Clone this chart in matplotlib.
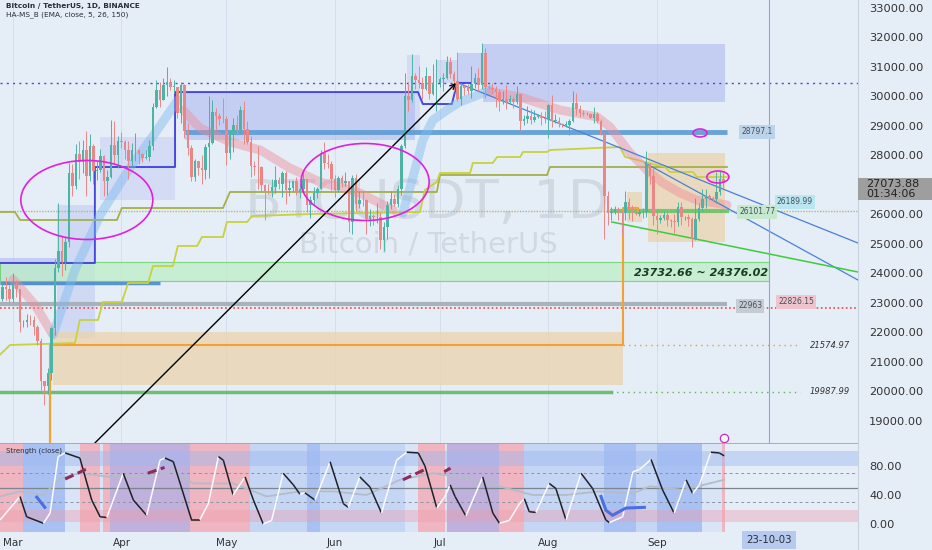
import matplotlib
matplotlib.use("Agg")
import matplotlib.pyplot as plt
from matplotlib.patches import Rectangle, Ellipse
from matplotlib.collections import LineCollection
from matplotlib.lines import Line2D
import matplotlib.transforms as mtrans
import numpy as np
import pandas as pd

# ---------------- candle data (BTC/USDT daily) ----------------
first_open = 23190
feb_close = [23150, 23550, 23490, 23140]
feb_high = [23220, 23690, 23880, 23600]
feb_low = [22750, 23070, 23100, 23020]
mar_close = [23630, 23470, 22350, 22350, 22430, 22410, 22200, 21700, 20360, 20190, 20630, 22160, 24200, 24750, 24380, 25060,
             27420, 26970, 28040, 27780, 28170, 27310, 28330, 27490, 27500, 27990, 27130, 27270, 28350, 28030, 28480]
mar_high = [24000, 23790, 23480, 22420, 22610, 22600, 22550, 22270, 21830, 20370, 20800, 22200, 24500, 26390, 25270, 25230,
            27750, 27700, 28400, 28500, 28530, 28820, 28740, 28380, 27800, 28220, 28000, 27500, 29200, 29170, 28650]
mar_low = [23020, 23200, 22000, 22200, 22200, 22250, 21930, 21580, 20050, 19550, 19900, 20400, 21900, 24050, 23900, 24120,
           24900, 26630, 26860, 27200, 27420, 26610, 27150, 27020, 27160, 27450, 26640, 26650, 27240, 27720, 27560]
apr_close = [28450, 28200, 27800, 28170, 28170, 28040, 27920, 27950, 28330, 29650, 30230, 29880, 30390, 30490, 30320,
             30320, 29430, 30380, 28820, 28250, 27260, 27820, 27590, 27510, 28300, 28420, 29470, 29340, 29250, 29230]
apr_high = [28800, 28530, 28500, 28440, 28770, 28190, 28100, 28170, 28540, 29770, 30550, 30500, 30620, 31000, 30610,
            30550, 30320, 30490, 30410, 29100, 28370, 27880, 27820, 28000, 28400, 30000, 29880, 29600, 29450, 29960]
apr_low = [28250, 27880, 27200, 27660, 27820, 27700, 27770, 27880, 27800, 28170, 29610, 29660, 29870, 30000, 30220,
           30130, 29270, 29100, 28600, 28010, 27130, 27130, 27350, 27020, 27200, 27230, 28380, 28880, 29040, 29100]
may_close = [28070, 28680, 29030, 28850, 29530, 28900, 28450, 27660, 27620, 27600, 26990, 26800, 26780, 26930, 27170, 27030,
             27400, 26820, 26890, 27120, 26750, 26850, 27220, 26330, 26480, 26720, 26870, 28080, 27750, 27700, 27210]
may_high = [29340, 28880, 29270, 29380, 29680, 29840, 29160, 28650, 27830, 28330, 27630, 27050, 27030, 27200, 27660, 27280,
            27470, 27490, 27180, 27150, 27270, 27050, 27500, 27220, 26630, 26930, 26920, 28200, 28450, 28050, 27830]
may_low = [27680, 27870, 28130, 28700, 28800, 28400, 28400, 27280, 27350, 26870, 26750, 25810, 26700, 26600, 26740, 26880,
           26600, 26350, 26620, 26810, 26670, 26550, 26800, 26080, 25870, 26330, 26560, 26850, 27550, 27560, 26820]
jun_close = [26820, 27250, 27070, 27120, 25740, 27230, 26340, 26500, 26480, 25850, 25940, 25900, 25920, 25120, 25580,
             26330, 26510, 26340, 26850, 28310, 30000, 29890, 30690, 30550, 30470, 30270, 30690, 30080, 30450, 30470]
jun_high = [27350, 27290, 27340, 27440, 27130, 27350, 27380, 26800, 26780, 26540, 26200, 26000, 26400, 26080, 25750,
            26470, 26780, 26680, 27000, 28400, 30800, 30500, 31430, 30810, 31050, 30660, 31010, 30710, 31100, 31280]
jun_low = [26600, 26770, 26920, 26950, 25400, 25350, 26130, 26230, 26300, 25350, 25600, 25650, 25710, 24820, 24750,
           25170, 26180, 26300, 26260, 26650, 28260, 29520, 29810, 30250, 30300, 29930, 30230, 29900, 30060, 29500]
jul_close = [30590, 30620, 31160, 30770, 30510, 29900, 30350, 30290, 30170, 30410, 30620, 30380, 31470, 30330, 30300, 30250,
             30140, 29860, 29910, 29800, 29910, 29800, 30080, 29180, 29230, 29350, 29210, 29320, 29350, 29280, 29230]
jul_high = [30660, 30800, 31380, 31330, 30880, 31500, 30450, 30380, 30440, 31050, 30800, 30980, 31800, 31630, 30400, 30450,
            30340, 30240, 30180, 30400, 30060, 29990, 30340, 30100, 29380, 29690, 29570, 29530, 29410, 29460, 29520]
jul_low = [30320, 30180, 30600, 30630, 30200, 29850, 29700, 30050, 30070, 29950, 30280, 30200, 30250, 29940, 30250, 30080,
           29660, 29500, 29760, 29570, 29730, 29620, 29740, 28860, 29050, 29100, 29070, 29120, 29260, 29030, 29110]
aug_close = [29700, 29170, 29180, 29080, 29040, 29040, 29180, 29770, 29560, 29430, 29400, 29420, 29280, 29400, 29170, 28700,
             26620, 26050, 26100, 26190, 26120, 26040, 26430, 26170, 26050, 26010, 26090, 26100, 27720, 27300, 25940]
aug_high = [29750, 30050, 29410, 29320, 29110, 29170, 29250, 30200, 30130, 29720, 29540, 29470, 29450, 29660, 29480, 29250,
            28780, 26800, 26270, 26300, 26260, 26130, 26790, 26550, 26310, 26090, 26170, 26220, 28140, 27760, 27580]
aug_low = [28580, 28960, 29100, 28960, 28960, 28960, 28700, 29130, 29380, 29320, 29330, 29360, 29260, 29090, 29100, 28700,
           25170, 25650, 25800, 26000, 25800, 25350, 25800, 25860, 25780, 25980, 25960, 25880, 25920, 27020, 25650]
sep_close = [25800, 25870, 25970, 25810, 25780, 25750, 26240, 25900, 25900, 25840, 25160, 25840, 26230, 26530, 26610,
             26570, 26530, 26760, 27210, 27073.88]
sep_high = [26130, 25980, 26120, 26090, 25860, 26020, 26440, 26420, 25950, 26000, 25900, 26560, 26400, 26860, 26880,
            26680, 26620, 27430, 27490, 27390]
sep_low = [25330, 25720, 25800, 25600, 25570, 25370, 25600, 25650, 25800, 25600, 24900, 25130, 25770, 26130, 26220,
           26480, 26410, 26380, 26670, 26900]

close = feb_close + mar_close + apr_close + may_close + jun_close + jul_close + aug_close + sep_close
high = feb_high + mar_high + apr_high + may_high + jun_high + jul_high + aug_high + sep_high
low = feb_low + mar_low + apr_low + may_low + jun_low + jul_low + aug_low + sep_low
opens = [first_open] + close[:-1]

ref = pd.Timestamp("2023-03-01")
dates = pd.date_range("2023-02-25", periods=len(close), freq="D")
day = np.array([(d - ref).days for d in dates], dtype=float)

month_starts = pd.date_range("2023-03-01", "2023-09-01", freq="MS")
month_days = [(m - ref).days for m in month_starts]
month_labels = ["Mar", "Apr", "May", "Jun", "Jul", "Aug", "Sep"]
cross_day = (pd.Timestamp("2023-10-03") - ref).days
cross_label = "23-10-03"

price_ticks = [p for p in range(19000, 33001, 1000) if p != 27000]
last_price = 27073.88
countdown = "01:34:06"

# ---------------- levels / drawings (day offset from Mar 1, price) ----------------
lvl_dotted_blue = 30460
lvl_28797 = 28797.1
lvl_26190 = 26189.99
lvl_26102 = 26101.77
lvl_22963 = 22963
lvl_22826 = 22826.15
lvl_21575 = 21574.97
lvl_19988 = 19987.99
zone_green = (23732.66, 24376.02)
lvl_left_blue = 23680

# lavender boxes: (d0, d1, p0, p1, alpha)
lav_boxes = [(49.1, 114.9, 28525, 30150, 0.55), (134.3, 203.4, 29810, 31780, 0.55),
             (127.1, 134.3, 30460, 31475, 0.5), (121.1, 127.1, 30460, 31240, 0.35),
             (112.6, 116.3, 28763, 31407, 0.3), (24.9, 46.3, 26490, 28630, 0.3),
             (-3.8, 12.6, 23610, 24525, 0.55), (12.6, 23.4, 21813, 26320, 0.35)]
tan_boxes = [(11.3, 174.3, 20220, 22017), (181.4, 203.4, 25070, 28085), (175.4, 179.7, 25746, 26763)]

blue_step_d = [-3.8, 23.4, 23.4, 46.3, 46.3, 115.7, 117.1, 125.4, 126.9, 130.6]
blue_step_p = [24356, 24356, 27610, 27610, 30150, 30150, 29745, 29745, 30460, 30460]

olive_d = [-3.8, 0.57, 2.0, 29.7, 31.1, 60, 62, 121.1, 122, 152.6, 153.4, 204]
olive_p = [26085, 26085, 25814, 25814, 26220, 26220, 26763, 26763, 27339, 27339, 27610, 27610]

yel_d = [-3.8, -0.86, 17.7, 19.1, 24.3, 25.7, 31.1, 32.9, 38.6, 40, 45.7, 47.1, 52.6, 54, 60, 61.1, 66.9, 68.3, 85.7,
         116.3, 117.7, 121.1, 122, 130.6, 131.4, 137.1, 138.3, 144.9, 145.7, 152.6, 153.4, 173.4, 174.9, 186.3, 187.7,
         194.3, 195.4, 204]
yel_p = [21237, 21576, 21644, 22424, 22424, 23034, 23034, 23678, 23678, 24254, 24254, 24932, 24932, 25237, 25237, 25746,
         25746, 25949, 26017, 26085, 26831, 27102, 27407, 27407, 27746, 27746, 27949, 27949, 28119, 28119, 28186, 28288,
         27949, 27610, 27441, 27441, 27271, 27271]

pink1_d = [0, 1.4, 6.3, 11.1]
pink1_p = [23800, 23610, 22932, 21983]
blue1_d = [11.4, 17.7, 24.9, 33.4, 40.6, 47.1]
blue1_p = [21915, 24120, 25980, 27580, 28760, 29880]
pink2_d = [48.6, 53.4, 62, 70.6, 79.1, 87.7, 99.1, 108.6]
pink2_p = [29542, 28932, 28458, 28186, 27576, 27102, 26729, 26153]
blue2_d = [111.4, 114.3, 117.1, 120, 124, 127.7, 131.4, 136.3]
blue2_p = [26051, 27271, 28525, 29203, 29542, 29814, 29983, 30220]
pink3_d = [136.3, 144.9, 156.3, 166.9, 170.6, 176.3, 181.1, 185.7, 190.6, 195.4, 204]
pink3_p = [30153, 29983, 29542, 29305, 28966, 28085, 27508, 27068, 26729, 26492, 26322]

trend1 = ((127.1, 30458), (241.4, 25034))
trend2 = ((180.6, 27746), (241.4, 23780))
green_trend = ((171.1, 25746), (241.4, 24051))
arrow_line = ((23.4, 18254), (126.6, 30458))
# ellipses: (day, price, width_days, height_price)
ellipses = [(21.1, 26492, 37.7, 2678), (100.6, 27102, 36.6, 2610), (196.3, 28763, 4.0, 271), (201.4, 27271, 6.3, 407)]

# ---------------- oscillator panel ----------------
osc_d = [-3.7, 2.0, 3.9, 8.7, 10.6, 12.9, 14.9, 19.1, 22.5, 24.9, 26.8, 31.5, 34.4, 38.2, 42, 43.4, 45.8, 51.0, 53.4,
         55.8, 58.7, 60.1, 62.9, 66.3, 68.7, 71.5, 73.9, 77.2, 80.1, 82, 83.4, 86.3, 90.6, 94.4, 95.8, 99.1, 102, 105.3,
         109.6, 112.5, 115.8, 117.7, 121.1, 123.4, 124.9, 126.3, 129.4, 134.2, 137.1, 139, 141.8, 144.7, 146.1, 147.5,
         149.4, 153.2, 155.1, 158, 162.3, 165.6, 169.4, 170.4, 174.2, 177.1, 179, 182.3, 185.6, 188.9, 192.3, 194.2,
         196.1, 199.4, 201.8, 203.2]
osc_v = [5.5, 38, 10, 1, 15, 93, 98, 91, 33, 10, 9, 70, 33, 12, 88, 91, 86, 6, 6, 28, 93, 88, 40, 65, 33, 0, 5, 70, 54,
         41, 43, 33, 86, 28, 23, 65, 51, 15, 88, 99, 98, 80, 22, 38, 54, 38, 11, 65, 15, 1, 5, 28, 35, 17, 16, 56, 49,
         5.5, 70, 49, 5.5, 2, 10, 72, 75, 89, 47, 15, 61, 42, 54, 99, 98, 94]
smooth_d = [-3.7, 2, 8.7, 13.4, 19.1, 27.7, 39.1, 45.8, 51.5, 62.9, 72.5, 82, 91.5, 101, 110.6, 120.1, 129.4, 139,
            148.5, 158, 167.5, 177.1, 181.9, 191.4, 203.2]
smooth_v = [38, 45, 40, 63, 70, 65, 66, 72, 56, 56, 38, 45, 45, 40, 61, 70, 63, 52, 40, 40, 45, 42, 52, 47, 61]
maroon_segs = [([14.9, 21.1], [62, 76]), ([38.5, 43.3], [70, 78]), ([111.4, 118.5], [61, 77]), ([123.2, 125], [72, 77])]
blue_segs = [([6.8, 9.1], [37, 23]), ([168, 169.4, 171.3, 175.1, 180.4], [38, 19, 12, 22, 23])]
# background bands: (d0, d1, kind)
osc_bands = [(-3.8, 2.9, "r"), (2.9, 14.9, "b"), (14.9, 19.1, "w"), (19.1, 24.9, "r"), (24.9, 25.7, "w"),
             (25.7, 27.7, "r"), (27.7, 50.6, "p"), (50.6, 67.7, "r"), (67.7, 84, "lb"), (84, 87.7, "b"),
             (87.7, 112, "lb"), (112, 115.7, "w"), (115.7, 123.4, "r"), (123.4, 124, "w"), (124, 138.9, "p"),
             (138.9, 146, "r"), (146, 169, "lb"), (169, 178, "b"), (178, 184, "lb"), (184, 196.9, "b"),
             (196.9, 202.6, "w"), (202.6, 203.5, "r")]
band_colors = {"r": "#efb5c0", "b": "#a9c1f2", "lb": "#c5d6f4", "p": "#c0b0dc", "w": "#d9e5f6"}

# ---------------- figure ----------------
BG = "#e5edf7"
fig = plt.figure(figsize=(9.32, 5.5), dpi=100)
fig.patch.set_facecolor(BG)
ax = fig.add_axes([0, 1 - 443 / 550, 858 / 932, 443 / 550])
ax2 = fig.add_axes([0, 1 - 532 / 550, 858 / 932, 89 / 550])
XL = (-3.71, 241.43)
for a in (ax, ax2):
    a.set_facecolor(BG)
    a.set_xlim(*XL)
    for s in a.spines.values():
        s.set_visible(False)
    for m in month_days:
        a.axvline(m, color="#d2dcea", lw=0.6, zorder=0.2)
ax.set_ylim(18254, 33271)
ax2.set_ylim(-11, 111.7)

# watermark
ax.text(0.4977, 0.5418, "BTCUSDT, 1D", transform=ax.transAxes, ha="center", va="center",
        fontsize=39, color="#c3cad4", alpha=0.6, zorder=0.3)
ax.text(0.4988, 0.447, "Bitcoin / TetherUS", transform=ax.transAxes, ha="center", va="center",
        fontsize=21, color="#c3cad4", alpha=0.6, zorder=0.3)

# boxes
for d0, d1, p0, p1, al in lav_boxes:
    ax.add_patch(Rectangle((d0, p0), d1 - d0, p1 - p0, facecolor="#aab6f0", alpha=al, lw=0, zorder=1))
for d0, d1, p0, p1 in tan_boxes:
    ax.add_patch(Rectangle((d0, p0), d1 - d0, p1 - p0, facecolor="#ecd2a8", alpha=0.7, lw=0, zorder=1))
ax.add_patch(Rectangle((-3.8, zone_green[0]), cross_day + 3.8, zone_green[1] - zone_green[0],
                       facecolor="#bdeec8", alpha=0.75, edgecolor="#60d060", lw=0.8, zorder=1.1))

# horizontal levels
ax.axhline(lvl_dotted_blue, color="#4a4ad8", lw=1.0, linestyle=(0, (1.5, 3)), zorder=2)
ax.plot([49.1, 204], [lvl_28797] * 2, color="#5b9bd5", lw=3.5, alpha=0.9, zorder=2, solid_capstyle="butt")
ax.plot([-3.8, 42], [lvl_left_blue] * 2, color="#4a8ac8", lw=2.5, alpha=0.9, zorder=2, solid_capstyle="butt")
ax.plot([-3.8, 204], [lvl_22963] * 2, color="#a9b1ba", lw=3, zorder=2, solid_capstyle="butt")
ax.axhline(lvl_22826, color="#e84a4a", lw=1.2, linestyle=(0, (1, 1.5)), zorder=2.1)
ax.axhline(lvl_26102, color="#e8b040", lw=1.0, linestyle=(0, (1, 3)), zorder=2)
ax.axhline(lvl_26102, color="#6cc6c8", lw=1.0, linestyle=(2, (1, 3)), zorder=2)
ax.plot([171.1, 204], [lvl_26102] * 2, color="#60c060", lw=3, alpha=0.8, zorder=2.2)
ax.plot([-3.8, 171], [lvl_19988] * 2, color="#58b858", lw=2.5, alpha=0.85, zorder=2)
ax.plot([171, 224.9], [lvl_19988] * 2, color="#58b858", lw=1, linestyle=(0, (1, 3)), zorder=2)
ax.plot([174.3, 224.9], [lvl_21575] * 2, color="#e8a030", lw=1, linestyle=(0, (1, 3)), zorder=2)

# orange step
ax.plot([10.6, 10.6, 174.3, 174.3, 178.6, 178.6], [18254, lvl_21575, lvl_21575, 26220, 26220, 26050],
        color="#f5a030", lw=1.5, zorder=3)

# step lines
ax.plot(blue_step_d, blue_step_p, color="#4848e0", lw=1.4, zorder=3)
ax.plot(olive_d, olive_p, color="#a4b048", lw=1.3, zorder=3)
ax.plot(yel_d, yel_p, color="#c8d23c", lw=1.3, zorder=3)

# ribbons
for dd, pp, col in [(pink1_d, pink1_p, "#f08c98"), (blue1_d, blue1_p, "#7db8f0"), (pink2_d, pink2_p, "#f08c98"),
                    (blue2_d, blue2_p, "#7db8f0"), (pink3_d, pink3_p, "#f08c98")]:
    ax.plot(dd, pp, color=col, lw=6.5, alpha=0.45, zorder=3.5, solid_capstyle="round")

# trend lines
for (a0, a1) in (trend1, trend2):
    ax.plot([a0[0], a1[0]], [a0[1], a1[1]], color="#4a80d8", lw=0.9, zorder=4)
ax.plot([green_trend[0][0], green_trend[1][0]], [green_trend[0][1], green_trend[1][1]], color="#3ccc3c", lw=1.1, zorder=4)
ax.axvline(cross_day, color="#8aa6e6", lw=0.8, zorder=4)

# candles
o = np.array(opens, dtype=float)
c = np.array(close, dtype=float)
h = np.array(high, dtype=float)
l = np.array(low, dtype=float)
up = c >= o
cols = np.where(up, "#4db3a4", "#ea8686")
ax.vlines(day, l, h, colors=cols, lw=0.7, zorder=5)
ax.bar(day, np.maximum(np.abs(c - o), 20), bottom=np.minimum(o, c), width=0.62, color=cols, lw=0, zorder=5.1)

# arrow
ax.annotate("", xy=arrow_line[1], xytext=arrow_line[0],
            arrowprops=dict(arrowstyle="->", color="black", lw=1.0, shrinkA=0, shrinkB=0, mutation_scale=9),
            annotation_clip=False, zorder=6)

# ellipses
for d, p, w, hh in ellipses:
    ax.add_patch(Ellipse((d, p), w, hh, fill=False, edgecolor="#e020e0", lw=1.2, zorder=7))
ax.plot([203.2], [18440], marker="o", ms=6, mfc="#f6f0fa", mec="#c030c0", mew=0.9, zorder=7)

# labels on chart
def tag(d, p, s, fc, tc="#44505c", size=5.5):
    ax.text(d, p, s, ha="center", va="center", fontsize=size, color=tc, zorder=8,
            bbox=dict(boxstyle="square,pad=0.3", facecolor=fc, edgecolor="none"))

tag(212.6, lvl_28797, "28797.1", "#bcd4ea")
tag(223.4, 26424, "26189.99", "#b9e6f0")
tag(212.6, 26085, "26101.77", "#c6e8cc")
tag(210.6, 22900, "22963", "#c6ccd4")
tag(223.7, 23034, "22826.15", "#efc4cc")
ax.text(233.4, lvl_21575, "21574.97", ha="center", va="center", fontsize=6, style="italic", color="#333", zorder=8)
ax.text(233.4, lvl_19988, "19987.99", ha="center", va="center", fontsize=6, style="italic", color="#333", zorder=8)
ax.text(196.6, 24000, "23732.66 ~ 24376.02", ha="center", va="center", fontsize=8, style="italic",
        weight="bold", color="#1d3a26", zorder=8)

# price axis
ax.yaxis.tick_right()
ax.set_yticks(price_ticks)
ax.set_yticklabels([f"{p:.2f}" for p in price_ticks])
ax.tick_params(axis="y", length=0, pad=8, labelsize=8.2, labelcolor="#333333")
ax.set_xticks(month_days)
ax.tick_params(axis="x", length=0, labelbottom=False)

# titles
fig.text(6 / 932, 1 - 6 / 550, "Bitcoin / TetherUS, 1D, BINANCE", fontsize=5.3, weight="bold", color="#2a2e39",
         ha="left", va="center")
fig.text(6 / 932, 1 - 14.5 / 550, "HA-MS_B (EMA, close, 5, 26, 150)", fontsize=5.3, color="#2a2e39",
         ha="left", va="center")

# last price box
fig.add_artist(Rectangle((858 / 932, 1 - 200 / 550), 74 / 932, 22 / 550, transform=fig.transFigure,
                         facecolor="#9e9e9e", edgecolor="none", zorder=5))
fig.text(866 / 932, 1 - 189 / 550, f"{last_price:.2f}\n{countdown}", fontsize=8, color="#222222", ha="left",
         va="center", linespacing=1.0, zorder=6)

# ---------------- oscillator panel drawing ----------------
for d0, d1, k in osc_bands:
    ax2.axvspan(d0, d1, color=band_colors[k], lw=0, zorder=0.5)
ax2.axhspan(80, 100, color="#9cb8f0", alpha=0.45, lw=0, zorder=0.6)
ax2.axhspan(3, 20, color="#ee9cae", alpha=0.4, lw=0, zorder=0.6)
ax2.axhline(70, color="#8a94a0", lw=0.7, linestyle=(0, (3, 3)), zorder=1)
ax2.axhline(30, color="#8a94a0", lw=0.7, linestyle=(0, (3, 3)), zorder=1)
ax2.axhline(50, color="#7c8590", lw=0.9, zorder=1)
ax2.axhline(111.7, color="#9aa4b0", lw=1.2, zorder=1)
ax2.plot(smooth_d, smooth_v, color="#b4bcc8", lw=1.3, zorder=2)
pts = np.column_stack([osc_d, osc_v])
segs = [pts[i:i + 2] for i in range(len(pts) - 1)]
seg_cols = ["#fbfbff" if osc_v[i + 1] > osc_v[i] else "#1e2228" for i in range(len(pts) - 1)]
ax2.add_collection(LineCollection(segs, colors=seg_cols, linewidths=1.1, zorder=3))
for dd, vv in maroon_segs:
    ax2.plot(dd, vv, color="#8b2c5c", lw=2.2, linestyle=(0, (3, 1.5)), zorder=3.5)
for dd, vv in blue_segs:
    ax2.plot(dd, vv, color="#4a6fe0", lw=2.2, zorder=3.5)
fig.text(6 / 932, 1 - 451 / 550, "Strength (close)", fontsize=5, color="#2a2e39", ha="left", va="center")

ax2.yaxis.tick_right()
ax2.set_yticks([0, 40, 80])
ax2.set_yticklabels(["0.00", "40.00", "80.00"])
ax2.tick_params(axis="y", length=0, pad=8, labelsize=8.2, labelcolor="#333333")
ax2.set_xticks(month_days)
ax2.set_xticklabels(month_labels)
ax2.tick_params(axis="x", length=0, pad=4, labelsize=7.5, labelcolor="#333333")
trans = mtrans.blended_transform_factory(ax2.transData, fig.transFigure)
ax2.text(cross_day, 1 - 540 / 550, cross_label, transform=trans, ha="center", va="center", fontsize=7.3,
         color="#2a2e39", bbox=dict(boxstyle="square,pad=0.4", facecolor="#b6c9ee", edgecolor="none"))

fig.add_artist(Line2D([858 / 932, 858 / 932], [0, 1], color="#c8d2de", lw=0.8))

fig.savefig("out.png", dpi=100, facecolor=BG)
